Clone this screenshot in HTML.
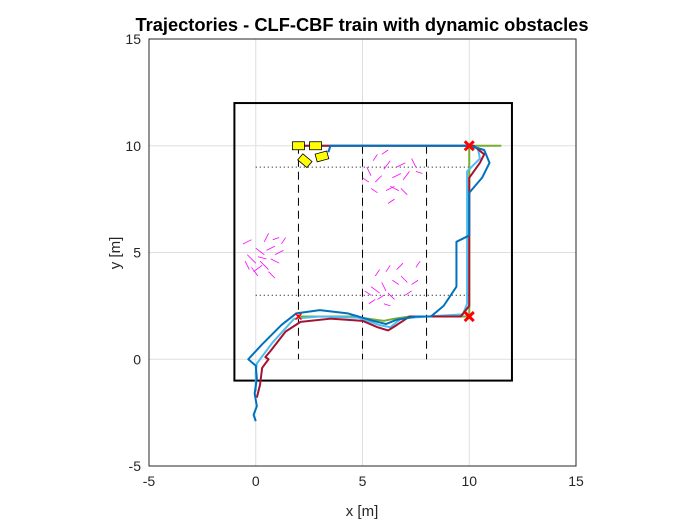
<!DOCTYPE html>
<html><head><meta charset="utf-8"><style>
body{margin:0;background:#fff}
svg{display:block;font-family:"Liberation Sans",Arial,sans-serif}
</style></head><body>
<svg id="chart" width="700" height="525" viewBox="0 0 700 525" xmlns="http://www.w3.org/2000/svg">
<rect width="700" height="525" fill="#fff"/>
<text x="362" y="31" text-anchor="middle" font-size="18.3" font-weight="bold" fill="#000">Trajectories - CLF-CBF train with dynamic obstacles</text>
<g id="grid"></g>
<g id="plot"></g>
<g id="axes"></g>
<text x="362" y="516" text-anchor="middle" font-size="15" fill="#262626">x [m]</text>
<text transform="translate(120,253) rotate(-90)" text-anchor="middle" font-size="15" fill="#262626">y [m]</text>
</svg>
<script>
const xTicks=[-5,0,5,10,15];
const yTicks=[-5,0,5,10,15];
const laneX=[2,5,8];
const rowY=[3,9];
const trajBlue=[[0,-2.9],[-0.1,-2.6],[0.05,-2.2],[-0.05,-1.6],[0.05,-0.9],[0,-0.3],[-0.35,0],[0.3,0.7],[1.2,1.6],[1.9,2.15],[3,2.3],[4.3,2.15],[5.5,1.8],[6.1,1.65],[6.6,1.85],[7.5,2],[8.2,2],[8.8,2.5],[9.4,3.4],[9.4,5.5],[10,5.8],[10,7.8],[10.6,8.5],[10.95,9.2],[10.7,9.8],[10,10],[6,10],[3.5,10],[3.4,9.7]];
const trajRed=[[0.05,-1.8],[0.2,-1.2],[0.3,-0.4],[0.6,0],[0.45,0.1],[0.7,0.4],[1.4,1.3],[2.1,1.75],[3.5,1.9],[5,1.8],[5.7,1.5],[6.2,1.35],[6.6,1.6],[7.2,2],[9.6,2],[10,2.5],[10,8.5],[10.5,9.2],[10.7,9.6],[10.2,10],[6,10],[2,10]];
const trajLight=[[0,-1.5],[0,-0.6],[0.05,-0.2],[0.8,0.8],[1.8,1.9],[3,2],[4.8,1.95],[5.8,1.6],[6.3,1.5],[6.8,1.9],[8,2],[9.7,2.1],[9.9,2.6],[9.9,8.8],[10.5,9.4],[10.4,9.9],[9.8,10],[6,10],[2,10]];
const trajGreen=[[2,2],[4.5,2],[6,1.8],[6.5,1.9],[7.2,2],[10,2],[10,3],[10,9.5],[10,10],[11,10],[11.5,10]];
const obsA=[[-0.6,5.4,-0.2,5.6],[-0.4,4.9,0,4.5],[0,5.2,0.4,4.9],[0.2,4.6,0.6,4.2],[0.5,5.1,0.9,5.3],[0.3,4.4,-0.1,4.1],[0.7,4.7,1.1,4.5],[-0.2,4.3,0.1,3.9],[0.4,5.5,0.6,5.9],[0.9,4.9,1.3,5.1],[0.6,4.1,0.9,3.8],[-0.5,4.6,-0.3,4.2],[1.2,5.4,1.4,5.7],[0.1,4.8,0.5,4.7],[0.8,5.6,1.1,5.7]];
const obsB=[[5.2,9,5.4,8.6],[5.6,8.3,5.9,8.6],[6,8.9,6.3,9.3],[6.4,8.5,6.8,8.7],[6.6,9,7,9.2],[5.4,8,5.7,7.8],[6.1,7.9,6.5,8.1],[6.9,8.4,7.2,8.8],[7.3,9.4,7.5,9],[5.9,9.6,6.2,9.8],[6.3,8.1,6.7,7.9],[5,8.5,5.3,8.3],[6.8,8,7.1,7.7],[6.2,7.3,6.5,7.5],[7.5,8.8,7.8,8.7],[5.5,9.3,5.7,9.6]];
const obsC=[[5.1,3.2,5.4,3],[5.4,3.4,5.8,3.1],[5.9,3.6,6.1,3.2],[6.2,3.1,6.5,2.8],[5.7,2.8,6,3],[6.4,3.7,6.7,3.5],[6.8,3.9,7.1,3.6],[6.1,4.1,6.3,4.4],[5.6,3.9,5.8,4.2],[7.3,3.5,7.6,3.7],[7.5,4.3,7.7,4.6],[6.6,4.2,6.9,4.5],[5.3,2.6,5.6,2.8],[6,2.6,6.3,2.5],[7,3,7.3,3.2]];
const cars=[[2,10,0],[2.8,10,0],[2.3,9.3,40],[3.1,9.5,-15]];
const goals=[[10,10],[10,2]];

const X=v=>255.75+21.35*v, Y=v=>359.25-21.35*v;
const NS="http://www.w3.org/2000/svg";
function mk(parent,tag,attrs){const e=document.createElementNS(NS,tag);for(const k in attrs)e.setAttribute(k,attrs[k]);document.getElementById(parent).appendChild(e);return e;}
mk('grid','rect',{x:149,y:39,width:427,height:427,fill:'#fff'});
xTicks.forEach(t=>{const l=mk('grid','line',{x1:X(t),x2:X(t),y1:39,y2:466,stroke:'#dfdfdf','stroke-width':1});

});
yTicks.forEach(t=>{const l=mk('grid','line',{y1:Y(t),y2:Y(t),x1:149,x2:576,stroke:'#dfdfdf','stroke-width':1});

});
const ar=mk('plot','rect',{x:X(-1),y:Y(12),width:X(12)-X(-1),height:Y(-1)-Y(12),fill:'none',stroke:'#000','stroke-width':2});


laneX.forEach(v=>{const l=mk('plot','line',{x1:X(v),x2:X(v),y1:Y(10),y2:Y(0),stroke:'#000','stroke-width':1,'stroke-dasharray':'8,5'});

});
rowY.forEach(v=>{const l=mk('plot','line',{x1:X(0),x2:X(10),y1:Y(v),y2:Y(v),stroke:'#000','stroke-width':1,'stroke-dasharray':'1,3'});

});
[obsA,obsB,obsC].forEach((arr,i)=>arr.forEach(s=>{const l=mk('plot','line',{x1:X(s[0]),y1:Y(s[1]),x2:X(s[2]),y2:Y(s[3]),stroke:'#ff00ff','stroke-width':0.8});

}));
const series=[[trajGreen,'#77ac30','trajectory-green'],[trajLight,'#4dbeee','trajectory-light-blue'],[trajRed,'#a2142f','trajectory-red'],[trajBlue,'#0072bd','trajectory-blue']];
series.forEach(s=>{const p=mk('plot','polyline',{points:s[0].map(q=>X(q[0])+','+Y(q[1])).join(' '),fill:'none',stroke:s[1],'stroke-width':2,'stroke-linejoin':'round'});

});
goals.forEach(g=>{const gx=X(g[0]),gy=Y(g[1]);const p=mk('plot','path',{d:`M${gx-4.5},${gy-4.5}L${gx+4.5},${gy+4.5}M${gx-4.5},${gy+4.5}L${gx+4.5},${gy-4.5}`,stroke:'#ff0000','stroke-width':3});

});
const sm=mk('plot','path',{d:`M${X(2)-3},${Y(2)-3}L${X(2)+3},${Y(2)+3}M${X(2)-3},${Y(2)+3}L${X(2)+3},${Y(2)-3}`,stroke:'#ff0000','stroke-width':1.5});


cars.forEach(c=>{const r=mk('plot','rect',{x:X(c[0])-6,y:Y(c[1])-4,width:12,height:8,fill:'#ffff00',stroke:'#000','stroke-width':0.8,transform:`rotate(${c[2]} ${X(c[0])} ${Y(c[1])})`});

});
const bx=mk('axes','rect',{x:149,y:39,width:427,height:427,fill:'none',stroke:'#262626','stroke-width':1});


xTicks.forEach(t=>{const tx=mk('axes','text',{x:X(t),y:486,'text-anchor':'middle','font-size':14,fill:'#262626'});tx.textContent=t;

});
yTicks.forEach(t=>{const tx=mk('axes','text',{x:141,y:Y(t)+5,'text-anchor':'end','font-size':14,fill:'#262626'});tx.textContent=t;

});
</script>
</body></html>
